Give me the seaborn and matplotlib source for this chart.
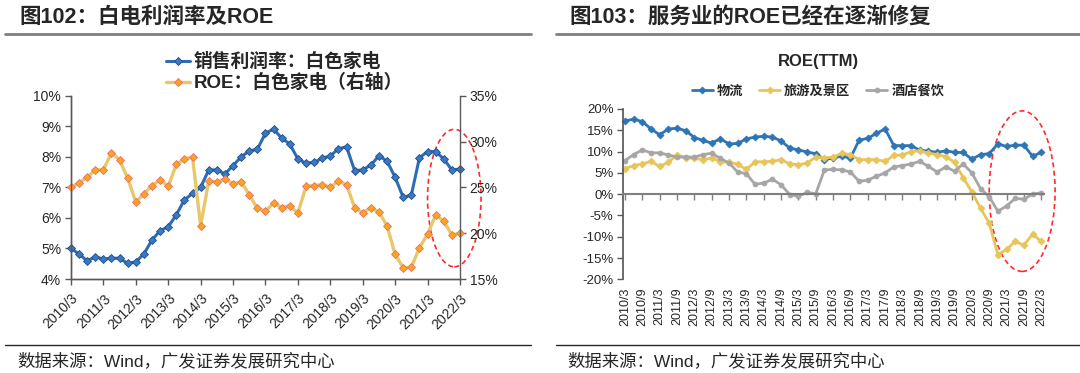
import matplotlib

matplotlib.use("Agg")

import matplotlib.pyplot as plt
import pandas as pd
import seaborn as sns
from matplotlib.lines import Line2D
from matplotlib.patches import Ellipse
from matplotlib.ticker import FuncFormatter


QUARTERS = [f"{y}/{m}" for y in range(2010, 2023) for m in (3, 6, 9, 12)][:49]

# 图102
MARGIN = [5.0, 4.82, 4.59, 4.73, 4.65, 4.68, 4.68, 4.51, 4.56, 4.82, 5.28, 5.58,
          5.71, 6.1, 6.59, 6.8, 7.0, 7.57, 7.57, 7.44, 7.71, 8.0, 8.19, 8.25,
          8.77, 8.91, 8.61, 8.42, 7.93, 7.79, 7.82, 7.95, 8.03, 8.26, 8.33, 7.55,
          7.57, 7.73, 8.03, 7.86, 7.33, 6.67, 6.75, 7.97, 8.17, 8.17, 7.93, 7.57,
          7.6]
ROE_APPLIANCE = [25.0, 25.5, 26.1, 26.9, 26.9, 28.8, 28.0, 26.0, 23.4, 24.3, 25.2, 25.8,
                 25.1, 27.5, 28.1, 28.3, 20.8, 25.7, 25.6, 25.9, 25.4, 25.6, 24.2, 22.7,
                 22.4, 23.3, 22.8, 23.0, 22.2, 25.1, 25.2, 25.3, 25.0, 25.7, 25.3, 22.8,
                 22.2, 22.8, 22.3, 20.8, 17.7, 16.2, 16.3, 18.4, 19.9, 22.0, 21.3, 19.8,
                 20.0]

# 图103
LOGISTICS = [17.2, 17.6, 17.05, 15.3, 13.95, 15.3, 15.5, 14.9, 13.3, 12.6, 12.0, 13.0,
             11.8, 11.9, 13.0, 13.4, 13.6, 13.4, 12.5, 10.8, 10.4, 9.9, 9.5, 8.1,
             8.5, 8.9, 8.5, 12.7, 13.1, 14.3, 15.3, 11.4, 11.4, 11.4, 10.3, 10.1,
             9.8, 10.2, 9.8, 9.8, 8.2, 9.3, 9.5, 11.8, 11.2, 11.5, 11.5, 8.9,
             9.8]
TOURISM = [6.0, 6.7, 7.1, 7.7, 6.5, 7.5, 9.2, 8.6, 8.4, 8.1, 8.5, 7.6,
           7.5, 7.0, 5.8, 7.6, 7.6, 7.7, 8.1, 7.1, 6.9, 7.3, 8.7, 8.5,
           8.7, 9.6, 9.3, 8.1, 8.1, 8.1, 7.7, 9.1, 9.2, 10.0, 10.2, 9.6,
           9.3, 8.8, 7.5, 3.9, 0.5, -3.3, -6.8, -14.2, -13.0, -11.1, -12.0, -9.4,
           -11.1]
HOTEL = [7.9, 9.3, 10.4, 9.7, 9.7, 9.2, 8.7, 8.7, 8.7, 9.3, 9.6, 8.4,
         7.3, 5.2, 4.8, 2.3, 2.6, 3.5, 2.2, -0.1, -0.5, 0.4, 0.1, 5.7,
         5.8, 5.7, 5.2, 3.0, 3.3, 4.2, 5.0, 6.4, 6.7, 7.1, 7.7, 6.5,
         5.2, 6.4, 5.4, 7.1, 5.0, 1.3, -0.6, -4.0, -2.8, -1.0, -1.2, 0.0,
         0.3]

CJK = ["Liberation Sans", "Noto Sans CJK SC"]
AXIS_GRAY = "#595959"
pct = FuncFormatter(lambda v, _: f"{v:.0f}%")


def line(ax, values, color, marker, face, edge, ms, lw, label):
    df = pd.DataFrame({"pos": range(len(values)), "value": values})
    sns.lineplot(data=df, x="pos", y="value", ax=ax, color=color, linewidth=lw,
                 marker=marker, markersize=ms, markerfacecolor=face,
                 markeredgecolor=edge, markeredgewidth=0.6, label=label,
                 clip_on=False, legend=False)


def header(x0, x1, title):
    fig.text(x0 + 0.013, 0.954, title, fontsize=15.5, fontweight="bold",
             family=CJK, va="center", ha="left")
    fig.add_artist(Line2D([x0, x1], [0.9097, 0.9097], color="#7f7f7f", lw=2))
    fig.add_artist(Line2D([x0, x1], [0.0761, 0.0761], color="#262626", lw=1))
    fig.text(x0 + 0.011, 0.034, "数据来源：Wind，广发证券发展研究中心", fontsize=12.5,
             family=CJK, va="center", ha="left", color="#262626")


sns.set_theme(style="white")
plt.rcParams["font.family"] = CJK
plt.rcParams["axes.unicode_minus"] = False

fig = plt.figure(figsize=(10.8, 3.73), dpi=100)

# ---- left panel
ax1 = fig.add_axes([0.0657, 0.252, 0.3602, 0.4914])
ax2 = ax1.twinx()
line(ax1, MARGIN, "#2e6db4", "D", "#3b78c3", "#1f4e8c", 4, 2.2, "销售利润率：白色家电")
line(ax2, ROE_APPLIANCE, "#e8c66a", "D", "#ffa31a", "#e8706a", 4.5, 2.4, "ROE：白色家电（右轴）")

ax1.set_xlim(0, 48)
ax1.set_ylim(4, 10)
ax2.set_ylim(15, 35)
ax1.set_yticks(range(4, 11))
ax2.set_yticks(range(15, 36, 5))
ax1.yaxis.set_major_formatter(pct)
ax2.yaxis.set_major_formatter(pct)
ax1.set_xticks(range(0, 49, 4), QUARTERS[::4], rotation=45, ha="right",
               rotation_mode="anchor")
ax1.set_xlabel("")
ax1.set_ylabel("")
ax2.set_ylabel("")
for ax in (ax1, ax2):
    ax.spines["top"].set_visible(False)
    for side in ("left", "right", "bottom"):
        ax.spines[side].set_color(AXIS_GRAY)
        ax.spines[side].set_linewidth(1)
ax1.spines["right"].set_visible(False)
ax1.tick_params(axis="y", left=True, direction="out", length=4, width=1,
                color=AXIS_GRAY, labelsize=10, pad=3, labelcolor="#262626")
ax1.tick_params(axis="x", bottom=True, direction="out", length=4, width=1,
                color=AXIS_GRAY, labelsize=10, pad=5, labelcolor="#262626")
ax2.tick_params(axis="y", right=True, direction="out", length=4, width=1,
                color=AXIS_GRAY, labelsize=10, pad=3, labelcolor="#262626")

ax1.add_patch(Ellipse((47.3, 6.65), 6.6, 4.5, fill=False, ec="#ff2a2a", lw=1.2,
                      ls=(0, (3, 2)), clip_on=False))

handles = ax1.get_lines()[:1] + ax2.get_lines()[:1]
fig.legend(handles, [h.get_label() for h in handles], loc="upper left",
           bbox_to_anchor=(0.145, 0.883), frameon=False, borderpad=0,
           handlelength=1.3, handletextpad=0.2, labelspacing=0.15,
           prop={"family": CJK, "weight": "bold", "size": 13.5})

# ---- right panel
ax3 = fig.add_axes([0.5771, 0.2512, 0.3894, 0.4566])
line(ax3, LOGISTICS, "#2e75b6", "D", "#2e75b6", "#2e75b6", 3.5, 2, "物流")
line(ax3, TOURISM, "#e8c55a", "D", "#e8c55a", "#e8c55a", 3.5, 2, "旅游及景区")
line(ax3, HOTEL, "#a6a6a6", "o", "#a6a6a6", "#a6a6a6", 3.5, 2, "酒店餐饮")

ax3.set_xlim(-0.2, 48.3)
ax3.set_ylim(-20, 20)
ax3.set_yticks(range(-20, 21, 5))
ax3.yaxis.set_major_formatter(pct)
ax3.set_xlabel("")
ax3.set_ylabel("")
for side in ("top", "right"):
    ax3.spines[side].set_visible(False)
ax3.spines["left"].set_color(AXIS_GRAY)
ax3.spines["bottom"].set_position(("data", 0))
ax3.spines["bottom"].set_color("#7f7f7f")
ax3.spines["bottom"].set_linewidth(1.5)
ax3.set_xticks(range(0, 49, 2))
ax3.tick_params(axis="x", bottom=True, direction="out", length=4, width=1,
                color="#7f7f7f", labelbottom=False)
ax3.tick_params(axis="y", left=True, direction="out", length=4, width=1,
                color=AXIS_GRAY, labelsize=9.5, pad=3, labelcolor="#262626")

sec = ax3.secondary_xaxis("bottom")
sec.set_xticks(range(0, 49, 2), QUARTERS[::2], rotation=90)
sec.tick_params(length=0, labelsize=9, pad=6, labelcolor="#262626")
sec.spines["bottom"].set_visible(False)

ax3.add_patch(Ellipse((45.8, 0.7), 7.6, 37.7, fill=False, ec="#ff2a2a", lw=1.2,
                      ls=(0, (3, 2)), clip_on=False))

fig.text(0.7574, 0.834, "ROE(TTM)", fontsize=12, fontweight="bold", ha="center",
         va="center")
fig.legend(handles=ax3.get_lines()[:3], labels=["物流", "旅游及景区", "酒店餐饮"],
           loc="center", bbox_to_anchor=(0.7574, 0.756), ncol=3, frameon=False,
           handlelength=1.6, handletextpad=0.3, columnspacing=1.2, borderpad=0,
           prop={"family": CJK, "weight": "bold", "size": 9.5})

header(0.0046, 0.4917, "图102：白电利润率及ROE")
header(0.5144, 1.0, "图103：服务业的ROE已经在逐渐修复")

fig.savefig("out.png", dpi=100)
